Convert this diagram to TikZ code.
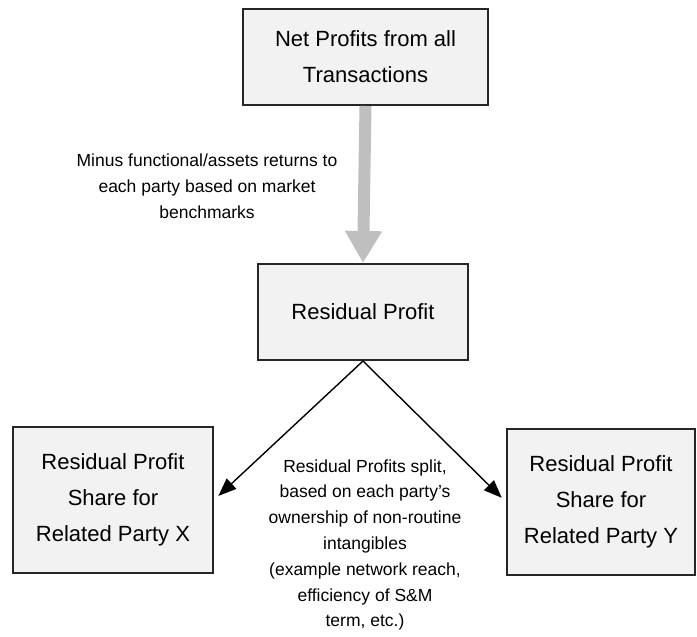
\documentclass[tikz,border=0pt]{standalone}
\usepackage{fontspec}
\setmainfont{Liberation Sans}
\usetikzlibrary{arrows.meta}

\begin{document}
\begin{tikzpicture}[x=0.5bp, y=-0.5bp,
  profitbox/.style={draw=black!85, line width=1bp, fill=gray!10,
    align=center, inner sep=0pt, font=\fontsize{11bp}{18bp}\selectfont},
  notetext/.style={align=center, inner sep=0pt,
    font=\fontsize{8.75bp}{12.9bp}\selectfont},
  splitarrow/.style={-{Triangle[length=9bp, width=7bp]},
    line width=0.7bp, shorten >=3bp}]

  % -------------------------------------------------------
  % Units are pixels of the 697 x 637 page, y running down
  % -------------------------------------------------------
  \useasboundingbox (0, 0) rectangle (697, 637);

  % Total profits
  \node[profitbox, minimum width=122.5bp, minimum height=48bp]
    (netprofit) at (365.5, 57) {Net Profits from all\\Transactions};

  % Residual after routine returns
  \node[profitbox, minimum width=105bp, minimum height=48bp]
    (residual) at (363, 312) {Residual Profit};

  % Shares of the two related parties
  \node[profitbox, minimum width=100bp, minimum height=73bp]
    (sharex) at (113, 500) {Residual Profit\\Share for\\Related Party X};
  \node[profitbox, minimum width=94bp, minimum height=73bp]
    (sharey) at (601, 502) {Residual Profit\\Share for\\Related Party Y};

  % ---- routine returns taken out ----
  \draw[gray!50, line width=6bp, -{Triangle[length=16bp, width=17.5bp]}]
    (netprofit.south) -- (residual.north);
  \node[notetext] (minusnote) at (207, 186)
    {Minus functional/assets returns to\\each party based on market\\benchmarks};

  % ---- split of the residual ----
  \draw[splitarrow] (residual.south) -- (sharex.east);
  \draw[splitarrow] (residual.south) -- (sharey.west);
  \node[notetext] (splitnote) at (365, 545)
    {Residual Profits split,\\based on each party's\\ownership of non-routine\\intangibles\\(example network reach,\\efficiency of S\&M\\term, etc.)};

\end{tikzpicture}
\end{document}
